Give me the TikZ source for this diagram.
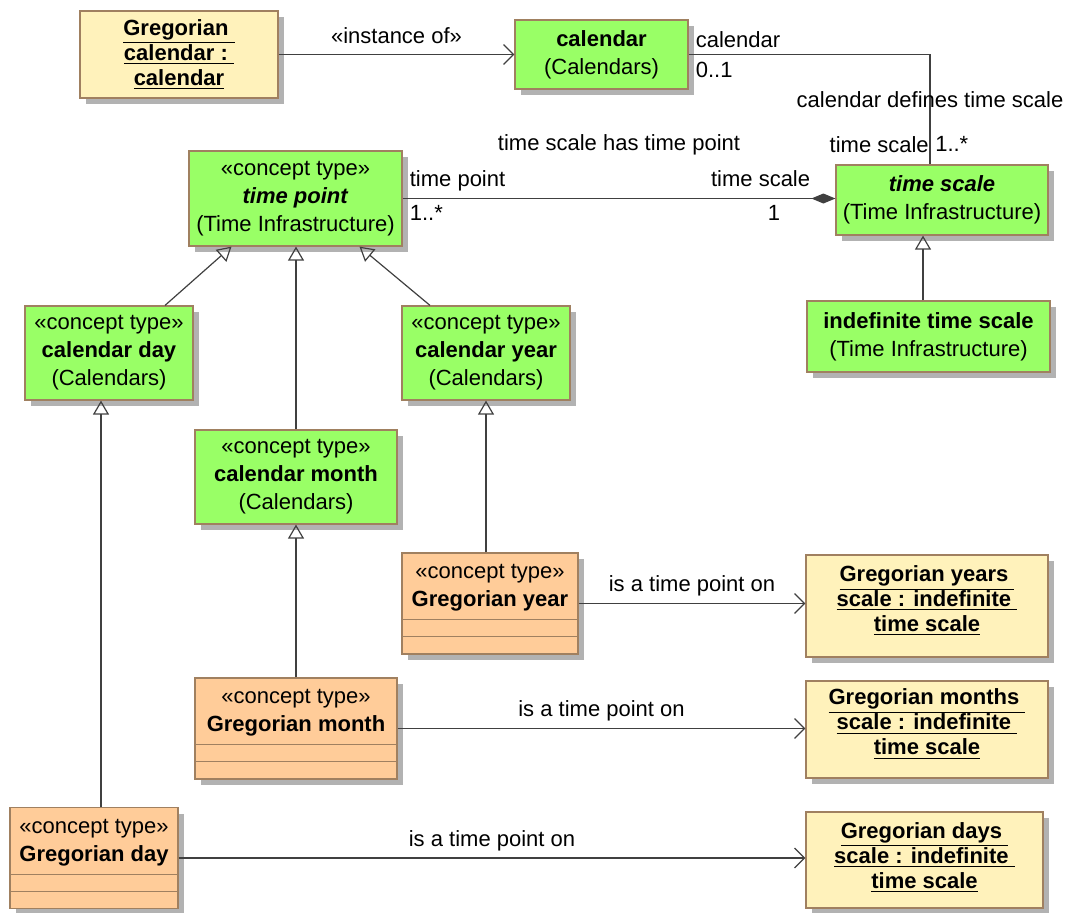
\documentclass[tikz,border=0pt]{standalone}
\usepackage{fontspec}
\setmainfont{Liberation Sans}
\usetikzlibrary{arrows.meta,shadows}
\definecolor{conceptgreen}{RGB}{153,255,102}
\definecolor{objyellow}{RGB}{255,242,187}
\definecolor{typeorange}{RGB}{255,204,153}
\definecolor{boxborder}{RGB}{160,128,96}
\definecolor{linegray}{RGB}{64,64,64}
\newcommand{\ul}[1]{\underline{#1}}
\begin{document}
\begin{tikzpicture}
      [x=0.5pt, y=-0.5pt,
       every node/.style={font=\fontsize{11}{14}\selectfont},
       box/.style={draw=boxborder, line width=0.6pt, align=center, inner sep=0pt,
         drop shadow={shadow xshift=3pt, shadow yshift=-3pt, fill=black!30, opacity=1}},
       concept node/.style={box, fill=conceptgreen},
       object node/.style={box, fill=objyellow, font=\fontsize{11}{12.5}\selectfont\bfseries},
       type node/.style={box, fill=typeorange, inner ysep=4.25pt, text height=22.5pt, text depth=19.5pt},
       link/.style={draw=linegray, line width=0.6pt},
       gen/.style={link, -{Triangle[open, length=7pt, width=8pt]}},
       dep/.style={link, -{Straight Barb[length=5pt, width=10pt]}}]
      \useasboundingbox (0,0) rectangle (1066,912);

      \node[object node, minimum width=99pt, minimum height=43.5pt] (gcal) at (179,54.5)
        {\ul{Gregorian\ }\\\ul{calendar :\ }\\\ul{calendar}};
      \node[concept node, minimum width=86.5pt, minimum height=34.5pt] (cal) at (601.5,54.5)
        {\textbf{calendar}\\(Calendars)};

      \node[concept node, minimum width=106.5pt, minimum height=47.5pt] (tp) at (295.5,198.5)
        {«concept type»\\\textbf{\textit{time point}}\\(Time Infrastructure)};
      \node[concept node, minimum width=106pt, minimum height=35pt] (ts) at (942,200)
        {\textbf{\textit{time scale}}\\(Time Infrastructure)};
      \node[concept node, minimum width=121.5pt, minimum height=35.5pt] (its) at (928.5,336.5)
        {\textbf{indefinite time scale}\\(Time Infrastructure)};

      \node[concept node, minimum width=84pt, minimum height=47pt] (cday) at (109,353)
        {«concept type»\\\textbf{calendar day}\\(Calendars)};
      \node[concept node, minimum width=84pt, minimum height=47pt] (cyear) at (486,353)
        {«concept type»\\\textbf{calendar year}\\(Calendars)};
      \node[concept node, minimum width=101pt, minimum height=47pt] (cmonth) at (296,477)
        {«concept type»\\\textbf{calendar month}\\(Calendars)};

      \node[type node, minimum width=88pt] (gyear) at (490,603.5)
        {«concept type»\\\textbf{Gregorian year}};
      \node[type node, minimum width=101pt] (gmonth) at (296,728.5)
        {«concept type»\\\textbf{Gregorian month}};
      \node[type node, minimum width=84pt] (gday) at (94,858)
        {«concept type»\\\textbf{Gregorian day}};
      \foreach \n in {gyear,gmonth,gday}
        \draw[boxborder, line width=0.6pt]
          ([yshift=9pt]\n.south west) -- ([yshift=9pt]\n.south east)
          ([yshift=17.5pt]\n.south west) -- ([yshift=17.5pt]\n.south east);

      \node[object node, minimum width=121pt, minimum height=51pt, text depth=7.5pt] (yscale) at (927,606)
        {\ul{Gregorian years\ }\\\ul{scale : indefinite\ }\\\ul{time scale}};
      \node[object node, minimum width=121pt, minimum height=48.5pt, text depth=7.5pt] (mscale) at (927,729.5)
        {\ul{Gregorian months\ }\\\ul{scale : indefinite\ }\\\ul{time scale}};
      \node[object node, minimum width=118.5pt, minimum height=48pt, text depth=4.7pt] (dscale) at (924.5,860)
        {\ul{Gregorian days\ }\\\ul{scale : indefinite\ }\\\ul{time scale}};

      \draw[dep] (gcal) -- node[above, yshift=2pt] {«instance of»} (cal);
      \draw[link] (cal.east) -| node[pos=0, above right] {calendar} node[pos=0, below right] {0..1}
        node[pos=0.706] {calendar defines time scale}
        node[pos=0.908, left, xshift=3pt] {time scale} node[pos=0.908, right, xshift=-1pt] {1..*}
        ([xshift=-6pt]ts.north);
      \draw[link, -{Diamond[length=12pt, width=5pt]}] (tp.east)
        -- node[pos=0, above right] {time point} node[pos=0, below right] {1..*}
        node[pos=1, above left, xshift=-9pt, yshift=2.5pt] {time scale}
        node[pos=1, below left, xshift=-24pt] {1}
        node[midway, above=18pt] {time scale has time point} (tp.east -| ts.west);

      \draw[gen] ([xshift=28pt]cday.north) -- ([xshift=-32pt]tp.south);
      \draw[gen] ([xshift=-28pt]cyear.north) -- ([xshift=32pt]tp.south);
      \draw[gen] (cmonth.north) -- (cmonth.north |- tp.south);
      \draw[gen] ([xshift=-2.75pt]its.north) -- ([xshift=-2.75pt]its.north |- ts.south);
      \draw[gen] (cyear.south |- gyear.north) -- (cyear.south);
      \draw[gen] (gmonth.north) -- (gmonth.north |- cmonth.south);
      \draw[gen] ([xshift=3.5pt]gday.north) -- ([xshift=3.5pt]gday.north |- cday.south);

      \draw[dep] (gyear.east) -- node[above] {is a time point on} (gyear.east -| yscale.west);
      \draw[dep] (gmonth.east) -- node[above] {is a time point on} (gmonth.east -| mscale.west);
      \draw[dep] (gday.east) -- node[above] {is a time point on} (gday.east -| dscale.west);
   \end{tikzpicture}
\end{document}
